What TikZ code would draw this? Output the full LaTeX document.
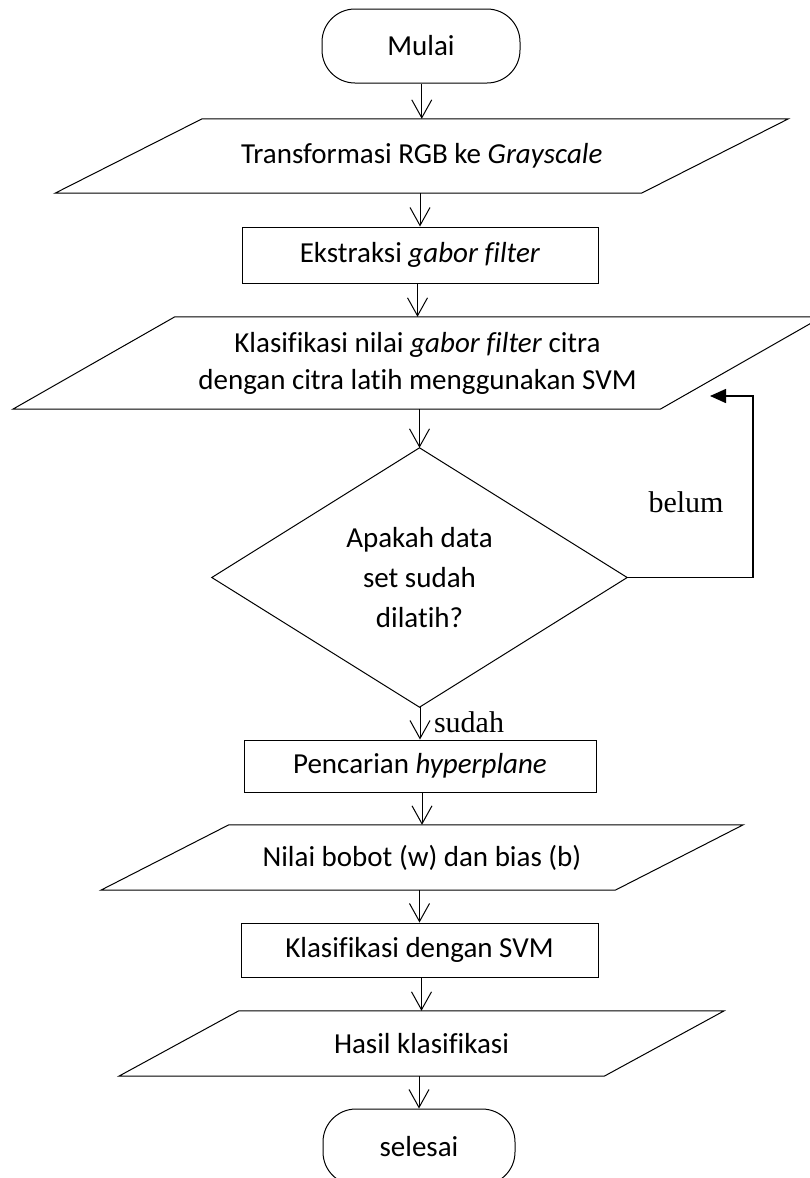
\documentclass[tikz,border=0pt]{standalone}
\usepackage{fontspec}
\setmainfont{Carlito}[Ligatures=NoCommon]
\newfontfamily\branchfont{Liberation Serif}
\usetikzlibrary{arrows.meta}

% outline of an input/output parallelogram drawn around a named node
\newcommand\ioframe[2]{%
  \draw[shapeline] ([xshift=#2]#1.north west) -- ([xshift=#2]#1.north east)
    -- ([xshift=-#2]#1.south east) -- ([xshift=-#2]#1.south west) -- cycle;}

\tikzset{
  shapeline/.style={draw=black, line width=1pt, line join=miter},
  boxtext/.style={font=\fontsize{29}{37}\selectfont, align=center, inner sep=0pt},
  procbox/.style={boxtext, shapeline, rectangle},
  termbox/.style={boxtext, shapeline, rectangle, rounded corners=33pt},
  iobox/.style={boxtext, rectangle},
  flow/.style={line width=1pt, -{Straight Barb[length=18pt,width=20pt,line width=1pt]}},
  backflow/.style={line width=1.5pt, -{Triangle[length=16pt,width=14pt]}},
  branch/.style={font=\branchfont\fontsize{30}{36}\selectfont, inner sep=0pt},
}

\begin{document}
\begin{tikzpicture}[x=1pt,y=-1pt]
\useasboundingbox (0,0) rectangle (810,1178);
\clip (0,0) rectangle (810,1178);

% start / stop terminals
\node[termbox, minimum width=198pt, minimum height=74pt] (start) at (421,46) {Mulai};
\node[termbox, minimum width=192pt, minimum height=76pt] (stop) at (419,1147) {selesai};

% input / output steps
\node[iobox, minimum width=586pt, minimum height=74pt] (in1) at (421.75,156)
  {Transformasi RGB ke \textit{Grayscale}};
\ioframe{in1}{73.5pt}

\node[iobox, minimum width=647pt, minimum height=92pt] (in2) at (417.5,363)
  {Klasifikasi nilai \textit{gabor filter} citra\\dengan citra latih menggunakan SVM};
\ioframe{in2}{81pt}

\node[iobox, minimum width=514pt, minimum height=65pt] (out1) at (422,857.5)
  {Nilai bobot (w) dan bias (b)};
\ioframe{out1}{64pt}

\node[iobox, minimum width=485pt, minimum height=65pt] (out2) at (421.5,1043.5)
  {Hasil klasifikasi};
\ioframe{out2}{60pt}

% process steps
\node[procbox, minimum width=356pt, minimum height=56pt] (proc1) at (420,255)
  {Ekstraksi \textit{gabor filter}};
\node[procbox, minimum width=352pt, minimum height=52pt] (proc2) at (420,766)
  {Pencarian \textit{hyperplane}};
\node[procbox, minimum width=357pt, minimum height=54pt] (proc3) at (419.5,950)
  {Klasifikasi dengan SVM};

% decision
\node[boxtext, font=\fontsize{29}{40}\selectfont, minimum width=415pt, minimum height=259pt]
  (dec) at (419.5,577.5) {Apakah data\\set sudah\\dilatih?};
\draw[shapeline] (dec.north) -- (dec.east) -- (dec.south) -- (dec.west) -- cycle;

% main flow
\draw[flow] (start.south -| in1.north) -- (in1.north);
\draw[flow] (in1.south -| proc1.north) -- (proc1.north);
\draw[flow] (proc1.south -| in2.north) -- (in2.north);
\draw[flow] (in2.south -| dec.north) -- (dec.north);
\draw[flow] (dec.south -| proc2.north) -- (proc2.north);
\draw[flow] (proc2.south -| out1.north) -- (out1.north);
\draw[flow] (out1.south -| proc3.north) -- (proc3.north);
\draw[flow] (proc3.south -| out2.north) -- (out2.north);
\draw[flow] (out2.south -| stop.north) -- (stop.north);

% loop back while training is not finished
\coordinate (backin) at (710,396);
\draw[backflow] (dec.east) -- ++(126,0) |- (backin);

% branch labels
\node[branch] (no) at (686,502) {belum};
\node[branch] (yes) at (469,722) {sudah};
\end{tikzpicture}
\end{document}
